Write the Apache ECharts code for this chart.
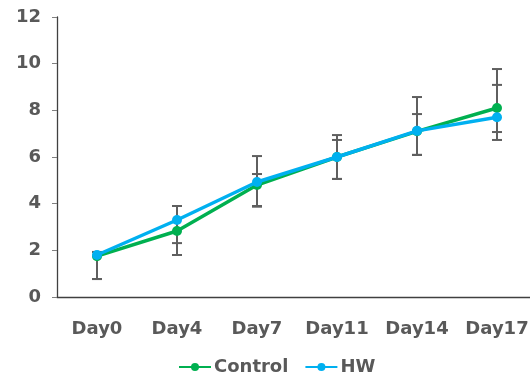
<!DOCTYPE html>
<html><head><meta charset="utf-8">
<script src="https://cdn.jsdelivr.net/npm/echarts@6/dist/echarts.min.js"></script>
<style>html,body{margin:0;padding:0;background:#fff;overflow:hidden}#c{width:537px;height:382px}</style>
</head><body><div id="c"></div>
<script>
const categories = ['Day0','Day4','Day7','Day11','Day14','Day17'];
const controlValues = [1.75, 2.83, 4.8, 6.0, 7.1, 8.1];
const hwValues = [1.8, 3.3, 4.93, 6.0, 7.12, 7.7];
const controlLow = [0.77, 1.8, 3.9, 5.06, 6.09, 7.07];
const controlHigh = [1.93, 3.9, 5.27, 6.73, 7.84, 9.09];
const hwLow = [0.77, 2.31, 3.87, 5.06, 6.09, 6.73];
const hwHigh = [1.93, 3.9, 6.04, 6.94, 8.57, 9.77];
const yTicks = [0, 2, 4, 6, 8, 10, 12];

const font = 'DejaVu Sans, Verdana, sans-serif';
const grey = '#595959';

function errSeries(low, high, z) {
  return {
    type: 'custom', z: z, silent: true,
    data: categories.map((c, i) => [i, low[i], high[i]]),
    renderItem: function (params, api) {
      const i = api.value(0);
      const lo = api.coord([i, api.value(1)]);
      const hi = api.coord([i, api.value(2)]);
      const hw = 5;
      const st = { stroke: '#5f5f5f', lineWidth: 2 };
      return { type: 'group', children: [
        { type: 'line', shape: { x1: lo[0], y1: lo[1], x2: hi[0], y2: hi[1] }, style: st },
        { type: 'line', shape: { x1: lo[0]-hw, y1: lo[1], x2: lo[0]+hw, y2: lo[1] }, style: st },
        { type: 'line', shape: { x1: hi[0]-hw, y1: hi[1], x2: hi[0]+hw, y2: hi[1] }, style: st }
      ]};
    }
  };
}

const chart = echarts.init(document.getElementById('c'));
chart.setOption({
  animation: false,
  textStyle: { fontFamily: font },
  grid: { left: 57, right: 0, top: 17, bottom: 85, containLabel: false },
  legend: {
    bottom: 1, left: 173, itemWidth: 32, itemHeight: 10, itemGap: 16,
    data: ['Control', 'HW'],
    textStyle: { fontFamily: font, fontSize: 18, fontWeight: 'bold', color: grey, padding: [0,0,0,-2] }
  },
  xAxis: {
    type: 'category', data: categories, boundaryGap: true,
    axisLine: { lineStyle: { color: '#404040', width: 1.3 } },
    axisTick: { show: false },
    axisLabel: { interval: 0, fontFamily: font, fontSize: 18, fontWeight: 'bold', color: grey, margin: 23 }
  },
  yAxis: {
    type: 'value', min: yTicks[0], max: yTicks[yTicks.length-1], interval: 2,
    splitLine: { show: false },
    axisLine: { show: true, lineStyle: { color: '#404040', width: 1.3 } },
    axisTick: { show: true, length: 5, lineStyle: { color: '#808080' } },
    axisLabel: { fontFamily: font, fontSize: 18, fontWeight: 'bold', color: grey, margin: 16 }
  },
  series: [
    errSeries(controlLow, controlHigh, 1),
    errSeries(hwLow, hwHigh, 1),
    { name: 'Control', type: 'line', data: controlValues, z: 3,
      symbol: 'circle', symbolSize: 10,
      itemStyle: { color: '#00b050' }, lineStyle: { color: '#00b050', width: 3.5 } },
    { name: 'HW', type: 'line', data: hwValues, z: 4,
      symbol: 'circle', symbolSize: 10,
      itemStyle: { color: '#00b0f0' }, lineStyle: { color: '#00b0f0', width: 3.5 } }
  ]
});
</script></body></html>
